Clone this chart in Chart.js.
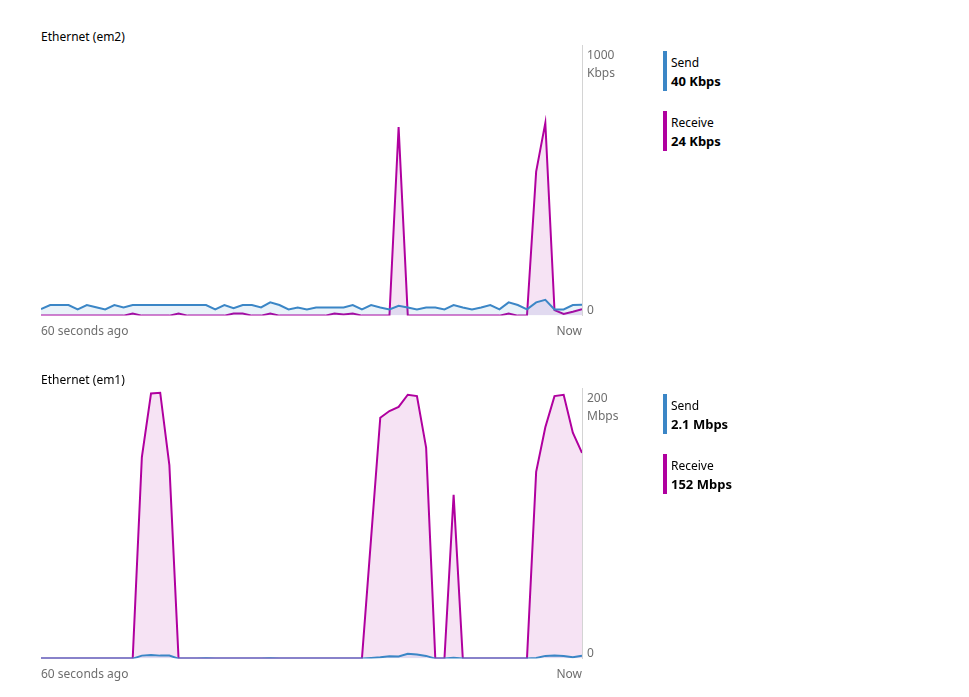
<!DOCTYPE html>
<html>
<head>
<meta charset="utf-8">
<title>Ethernet</title>
<script src="https://cdn.jsdelivr.net/npm/chart.js@4/dist/chart.umd.min.js"></script>
<style>
    html, body { margin: 0; padding: 0; background: #fff; }
    body { width: 969px; height: 697px; position: relative; overflow: hidden;
           font-family: 'Noto Sans', 'Open Sans', sans-serif; color: #000; }
    .panel { position: absolute; left: 0; width: 969px; height: 349px; }
    .panel canvas { position: absolute; left: 0; top: 0; width: 640px; height: 349px; }
    .title { position: absolute; left: 41px; top: 29px; font-size: 12px; line-height: 16px; }
    .legend-item { position: absolute; left: 663px; height: 40px; padding-left: 4px;
                   border-left: 4px solid #3b86c6; }
    .legend-item .name { font-size: 12px; line-height: 16px; margin-top: 4px; }
    .legend-item .value { font-size: 13px; line-height: 20px; font-weight: bold; }
</style>
</head>
<body>

<div class="panel" style="top: 0px;">
    <div class="title">Ethernet (em2)</div>
    <canvas id="chart-em2" width="640" height="349"></canvas>
    <div id="legend-em2"></div>
</div>

<div class="panel" style="top: 343px;">
    <div class="title">Ethernet (em1)</div>
    <canvas id="chart-em1" width="640" height="349"></canvas>
    <div id="legend-em1"></div>
</div>

<script>
// x positions: one sample per second, oldest on the left
const sampleIndex = Array.from({ length: 60 }, (_, i) => i);
const xTickLabels = ['60 seconds ago', 'Now'];
const seriesNames = ['Send', 'Receive'];

// Ethernet (em2), Kbps
const em2Max = 1000;
const em2Unit = 'Kbps';
const em2Send = [
    24, 39, 39, 39, 23, 39, 31, 23, 39, 30,
    39, 39, 39, 39, 39, 39, 39, 39, 39, 23,
    39, 27, 39, 39, 30, 49, 39, 23, 30, 23,
    30, 30, 30, 30, 39, 23, 39, 30, 23, 36,
    30, 23, 30, 30, 23, 39, 30, 23, 30, 39,
    23, 49, 39, 23, 49, 58, 23, 23, 39, 40
];
const em2Receive = [
    0, 0, 0, 0, 0, 0, 0, 0, 0, 0,
    8, 0, 0, 0, 0, 8, 0, 0, 0, 0,
    0, 8, 8, 0, 0, 8, 0, 0, 0, 0,
    0, 0, 8, 4, 8, 0, 0, 0, 0, 697,
    0, 0, 0, 0, 0, 0, 0, 0, 0, 0,
    0, 8, 0, 0, 532, 712, 20, 6, 14, 24
];
const em2Readout = ['40 Kbps', '24 Kbps'];

// Ethernet (em1), Mbps
const em1Max = 200;
const em1Unit = 'Mbps';
const em1Send = [
    0, 0, 0, 0, 0, 0, 0, 0, 0, 0,
    0, 2.2, 2.7, 2.2, 2.2, 0, 0, 0, 0.3, 0,
    0, 0, 0, 0, 0, 0.3, 0, 0, 0, 0,
    0, 0, 0, 0, 0, 0, 0.5, 1, 1.7, 1.5,
    3.5, 3, 2, 0, 0, 0.7, 0, 0, 0, 0,
    0, 0, 0, 0, 0.5, 2, 2.3, 2, 1, 2.1
];
const em1Receive = [
    0, 0, 0, 0, 0, 0, 0, 0, 0, 0,
    0, 149, 196, 196.5, 143, 0, 0, 0, 0, 0,
    0, 0, 0, 0, 0, 0, 0, 0, 0, 0,
    0, 0, 0, 0, 0, 0, 89, 178, 183, 186,
    195, 194, 156, 0, 0, 121, 0, 0, 0, 0,
    0, 0, 0, 0, 138, 171, 194, 195, 167, 152
];
const em1Readout = ['2.1 Mbps', '152 Mbps'];

const SEND_COLOR = '#3b86c6';
const RECEIVE_COLOR = '#b0009f';
const AXIS_TEXT = '#6e6e6e';
const FONT = "'Noto Sans', 'Open Sans', sans-serif";

// draws the "max / unit" and "0" labels beside the right axis line
const rightAxisLabels = {
    id: 'rightAxisLabels',
    afterDraw(chart, args, opts) {
        const { ctx, chartArea } = chart;
        const y = chart.scales.y;
        const x = chartArea.right + 5;
        ctx.save();
        ctx.fillStyle = AXIS_TEXT;
        ctx.font = '12px ' + FONT;
        ctx.textAlign = 'left';
        ctx.textBaseline = 'middle';
        const top = y.getPixelForValue(y.max);
        ctx.fillText(String(y.max), x, top + 11);
        ctx.fillText(opts.unit, x, top + 29);
        ctx.fillText('0', x, y.getPixelForValue(0) - 5);
        ctx.restore();
    }
};

function buildLegend(containerId, readout) {
    const container = document.getElementById(containerId);
    const colors = [SEND_COLOR, RECEIVE_COLOR];
    seriesNames.forEach((name, i) => {
        const item = document.createElement('div');
        item.className = 'legend-item';
        item.style.top = (51 + i * 60) + 'px';
        item.style.borderLeftColor = colors[i];
        item.innerHTML = `<div class="name">${name}</div><div class="value">${readout[i]}</div>`;
        container.appendChild(item);
    });
}

function buildChart(canvasId, send, receive, max, unit) {
    const ctx = document.getElementById(canvasId).getContext('2d');
    return new Chart(ctx, {
        type: 'line',
        data: {
            labels: sampleIndex,
            datasets: [{
                label: seriesNames[0],
                data: send,
                borderColor: SEND_COLOR,
                backgroundColor: 'rgba(59, 134, 198, 0.11)',
                borderWidth: 2,
                fill: 'origin',
                tension: 0,
                pointRadius: 0
            }, {
                label: seriesNames[1],
                data: receive,
                borderColor: RECEIVE_COLOR,
                backgroundColor: 'rgba(176, 0, 159, 0.11)',
                borderWidth: 2,
                fill: 'origin',
                tension: 0,
                pointRadius: 0
            }]
        },
        options: {
            responsive: false,
            animation: false,
            layout: { padding: { top: 45, left: 41, right: 58, bottom: 1 } },
            plugins: {
                legend: { display: false },
                tooltip: { enabled: false },
                rightAxisLabels: { unit: unit }
            },
            scales: {
                x: {
                    type: 'linear',
                    min: 0,
                    max: sampleIndex.length - 1,
                    grid: { display: false, drawTicks: false },
                    border: { display: false },
                    afterBuildTicks: axis => {
                        axis.ticks = [{ value: 0 }, { value: sampleIndex.length - 1 }];
                    },
                    ticks: {
                        align: 'inner',
                        maxRotation: 0,
                        padding: 9,
                        color: AXIS_TEXT,
                        font: { family: FONT, size: 12 },
                        callback: (value, index) => xTickLabels[index]
                    }
                },
                y: {
                    position: 'right',
                    min: 0,
                    max: max,
                    grid: { display: false, drawTicks: false },
                    border: { display: true, color: '#d4d4d4', width: 1 },
                    ticks: { display: false }
                }
            }
        },
        plugins: [rightAxisLabels]
    });
}

window.addEventListener('load', () => {
    buildChart('chart-em2', em2Send, em2Receive, em2Max, em2Unit);
    buildChart('chart-em1', em1Send, em1Receive, em1Max, em1Unit);
    buildLegend('legend-em2', em2Readout);
    buildLegend('legend-em1', em1Readout);
});
</script>
</body>
</html>
